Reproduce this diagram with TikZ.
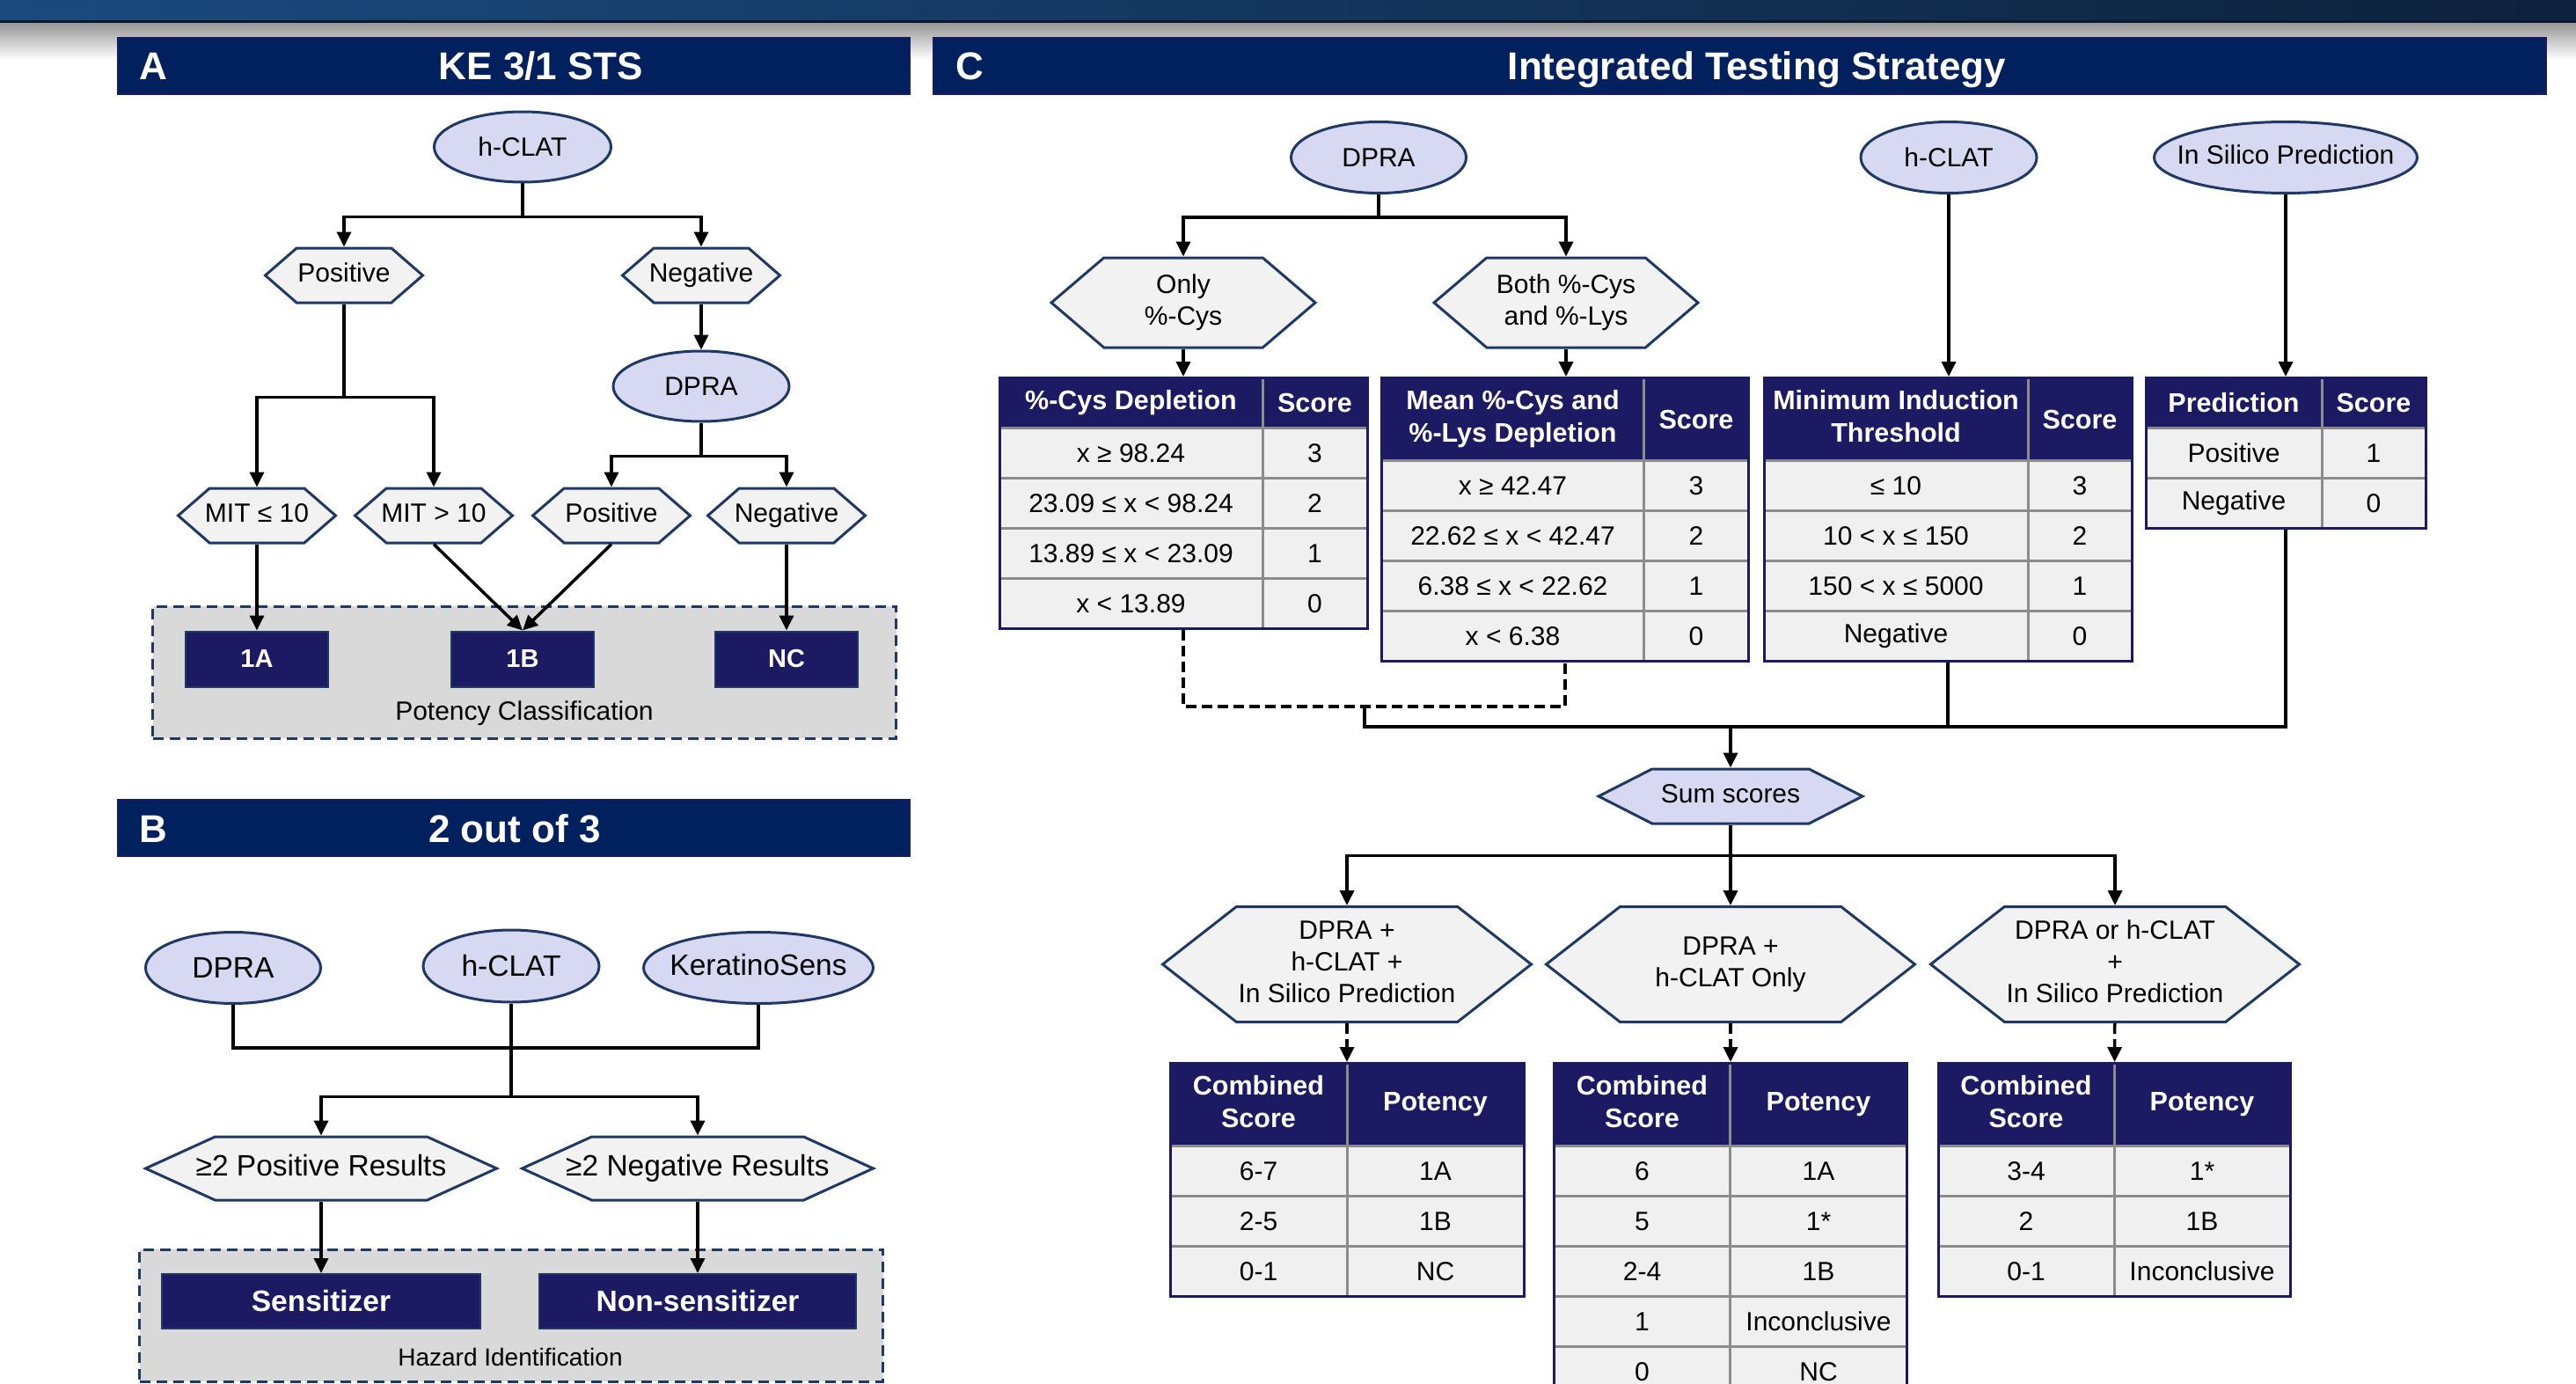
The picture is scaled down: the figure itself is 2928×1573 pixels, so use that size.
\documentclass[tikz,border=0pt]{standalone}
\usepackage{fontspec}
\setmainfont{Liberation Sans}
\usetikzlibrary{arrows.meta,shapes.geometric,shapes.symbols,matrix}

\definecolor{barnavy}{RGB}{1,32,94}
\definecolor{headnavy}{RGB}{28,26,98}
\definecolor{edgenavy}{RGB}{31,56,100}
\definecolor{lav}{RGB}{215,216,242}
\definecolor{hexgray}{RGB}{242,242,242}
\definecolor{cellgray}{RGB}{240,240,240}
\definecolor{gridgray}{RGB}{140,140,140}
\definecolor{boxgray}{RGB}{217,217,217}
\definecolor{topblue}{RGB}{27,74,126}
\definecolor{topdark}{RGB}{13,34,60}

% centred text that does not widen its shape
\newcommand{\hx}[1]{\makebox[0pt]{\begin{tabular}{@{}c@{}}#1\end{tabular}}}
\newcommand{\twol}[2]{\makebox[0pt]{\begin{tabular}{@{}c@{}}#1\\#2\end{tabular}}}

\begin{document}
\begin{tikzpicture}[x=1pt,y=-1pt,line width=3.5pt,>={Triangle[width=16pt,length=17pt]},
  txt/.style={font=\fontsize{30}{36}\selectfont},
  txtB/.style={font=\fontsize{33.5}{40}\selectfont},
  assay/.style={ellipse,draw=edgenavy,fill=lav,line width=3pt,inner sep=0pt,txt},
  hexa/.style={signal,signal to=east and west,signal pointer angle=#1,draw=edgenavy,
    fill=hexgray,line width=3pt,inner sep=0pt,txt},
  hexA/.style={hexa=82,minimum width=179pt,minimum height=62pt},
  hexB/.style={hexa=49,minimum width=399pt,minimum height=72pt,txtB},
  hexC/.style={hexa=81,minimum width=300pt,minimum height=102pt},
  hexD/.style={hexa=76,minimum width=419pt,minimum height=131pt},
  result/.style={draw=edgenavy,fill=headnavy,line width=2pt,text=white,
    font=\fontsize{29}{35}\selectfont\bfseries},
  groupbox/.style={draw=edgenavy,fill=boxgray,line width=3pt,dash pattern=on 12pt off 7pt},
  bar/.style={draw=headnavy,fill=barnavy,line width=2pt,minimum height=64pt},
  bartxt/.style={anchor=base,inner sep=0pt,text=white,font=\fontsize{44}{52}\selectfont\bfseries},
  dashline/.style={dash pattern=on 12pt off 6pt},
  cell/.style={fill=cellgray,minimum height=54pt,inner sep=0pt,anchor=center,txt},
  scoretab/.style={matrix of nodes,draw=headnavy,fill=gridgray,line width=3pt,inner sep=1.5pt,
    column sep=3pt,row sep=3pt,nodes={cell},
    row 1/.style={nodes={fill=headnavy,text=white,minimum height=#1,
      font=\fontsize{30.5}{37}\selectfont\bfseries}}},
  scoretab/.default=54pt]
% ---------- frame ----------
\path[use as bounding box,fill=white] (0,0) rectangle (2928,1573);
\clip (0,0) rectangle (2928,1573);
\shade[left color=topblue,right color=topdark] (0,0) rectangle (2928,27);
\fill[topdark!75!black] (0,23) rectangle (2928,27);
\shade[top color=black!40,bottom color=white] (0,27) rectangle (2928,68);
% ---------- A ----------
\node[bar,minimum width=900pt] (barA) at (584,75) {};
\node[bartxt,anchor=base west] (labA) at (157,91) {A};
\node[bartxt] (ttlA) at (615,91) {KE 3/1 STS};
\node[assay,minimum width=201pt,minimum height=80pt] (hclatA) at (594,167) {h-CLAT};
\node[hexA] (posA) at (391,313) {\hx{Positive}};
\node[hexA] (negA) at (797,313) {\hx{Negative}};
\node[assay,minimum width=200pt,minimum height=80pt] (dpraA) at (797,439) {DPRA};
\node[hexA] (mitlo) at (292,586) {\hx{MIT ≤ 10}};
\node[hexA] (mithi) at (493,586) {\hx{MIT > 10}};
\node[hexA] (dpos) at (695,586) {\hx{Positive}};
\node[hexA] (dneg) at (894,586) {\hx{Negative}};
\node[groupbox,minimum width=845pt,minimum height=150pt] (potbox) at (596,764) {};
\node[result,minimum width=162pt,minimum height=63pt] (c1A) at (292,749) {1A};
\node[result,minimum width=162pt,minimum height=63pt] (c1B) at (594,749) {1B};
\node[result,minimum width=162pt,minimum height=63pt] (cNC) at (894,749) {NC};
\node[txt] (potlbl) at (596,811) {Potency Classification};
\draw[->] (hclatA.south) -- ++(0,38) -| (posA.north);
\draw[->] (hclatA.south) -- ++(0,38) -| (negA.north);
\draw[->] (posA.south) -- ++(0,106) -| (mitlo.north);
\draw[->] (posA.south) -- ++(0,106) -| (mithi.north);
\draw[->] (negA) -- (dpraA);
\draw[->] (dpraA.south) -- ++(0,38) -| (dpos.north);
\draw[->] (dpraA.south) -- ++(0,38) -| (dneg.north);
\draw[->] (mitlo) -- (c1A);
\draw[->] (mithi.south) -- (c1B.north);
\draw[->] (dpos.south) -- (c1B.north);
\draw[->] (dneg) -- (cNC);
% ---------- B ----------
\node[bar,minimum width=900pt] (barB) at (584,941) {};
\node[bartxt,anchor=base west] (labB) at (157,957) {B};
\node[bartxt] (ttlB) at (585,957) {2 out of 3};
\node[assay,txtB,minimum width=199pt,minimum height=81pt] (dpraB) at (265,1100) {DPRA};
\node[assay,txtB,minimum width=200pt,minimum height=82pt] (hclatB) at (581,1098) {h-CLAT};
\node[assay,txtB,minimum width=261pt,minimum height=81pt] (keraB) at (862,1100) {\hx{KeratinoSens}};
\node[hexB] (pos2) at (365,1328) {\hx{≥2 Positive Results}};
\node[hexB] (neg2) at (793,1328) {\hx{≥2 Negative Results}};
\node[groupbox,minimum width=845pt,minimum height=150pt] (hazbox) at (581,1495) {};
\node[result,font=\fontsize{33.5}{40}\selectfont\bfseries,minimum width=362pt,minimum height=62pt] (sens) at (365,1479) {Sensitizer};
\node[result,font=\fontsize{33.5}{40}\selectfont\bfseries,minimum width=360pt,minimum height=62pt] (nonsens) at (793,1479) {Non-sensitizer};
\node[font=\fontsize{28}{34}\selectfont] (hazlbl) at (580,1542) {Hazard Identification};
\draw (dpraB.south) -- ++(0,49) -| (keraB.south);
\draw[->] (hclatB.south) -- ++(0,106) -| (pos2.north);
\draw[->] (hclatB.south) -- ++(0,106) -| (neg2.north);
\draw[->] (pos2) -- (sens);
\draw[->] (neg2) -- (nonsens);
% ---------- C ----------
\node[bar,minimum width=1833pt] (barC) at (1977,75) {};
\node[bartxt,anchor=base west] (labC) at (1085,91) {C};
\node[bartxt] (ttlC) at (1997,91) {Integrated Testing Strategy};
\node[assay,minimum width=199pt,minimum height=81pt] (dpraC) at (1567,179) {DPRA};
\node[assay,minimum width=200pt,minimum height=81pt] (hclatC) at (2215,179) {h-CLAT};
\node[assay,minimum width=299pt,minimum height=81pt] (insilC) at (2598,179) {\hx{In Silico Prediction}};
\node[hexC] (onlycys) at (1345,344) {\twol{Only}{\%-Cys}};
\node[hexC] (bothcl) at (1780,344) {\twol{Both \%-Cys}{and \%-Lys}};
\matrix (tcys) [scoretab,column 1/.style={nodes={minimum width=296pt}},
  column 2/.style={nodes={minimum width=116pt}},anchor=north] at (1345,428) {
  \%-Cys Depletion & Score \\
  x ≥ 98.24 & 3 \\
  23.09 ≤ x < 98.24 & 2 \\
  13.89 ≤ x < 23.09 & 1 \\
  x < 13.89 & 0 \\
};
\matrix (tboth) [scoretab=91pt,column 1/.style={nodes={minimum width=295pt}},
  column 2/.style={nodes={minimum width=116pt}},anchor=north] at (1779,428) {
  \twol{Mean \%-Cys and}{\%-Lys Depletion} & Score \\
  x ≥ 42.47 & 3 \\
  22.62 ≤ x < 42.47 & 2 \\
  6.38 ≤ x < 22.62 & 1 \\
  x < 6.38 & 0 \\
};
\matrix (tmit) [scoretab=91pt,column 1/.style={nodes={minimum width=297pt}},
  column 2/.style={nodes={minimum width=115pt}},anchor=north] at (2214,428) {
  \twol{Minimum Induction}{Threshold} & Score \\
  ≤ 10 & 3 \\
  10 < x ≤ 150 & 2 \\
  150 < x ≤ 5000 & 1 \\
  Negative & 0 \\
};
\matrix (tpred) [scoretab,column 1/.style={nodes={minimum width=197pt}},
  column 2/.style={nodes={minimum width=115pt}},anchor=north] at (2598,428) {
  Prediction & Score \\
  Positive & 1 \\
  Negative & 0 \\
};
\coordinate (dmerge) at (1551,803);
\coordinate (smerge) at (1967,826);
\draw[->] (dpraC.south) -- ++(0,26) -| (onlycys.north);
\draw[->] (dpraC.south) -- ++(0,26) -| (bothcl.north);
\draw[->] (onlycys) -- (tcys);
\draw[->] (bothcl.south) -- (bothcl.south |- tboth.north);
\draw[->] (hclatC.south) -- (hclatC.south |- tmit.north);
\draw[->] (insilC.south) -- (insilC.south |- tpred.north);
\draw[dashline] (tcys.south) |- (dmerge) -| (tboth.south);
\draw (dmerge) |- (smerge) -| (tpred.south);
\draw (tmit.south) -- (tmit.south |- smerge);
% ---------- sum and potency ----------
\node[hexa=54,fill=lav,minimum width=300pt,minimum height=62pt] (sum) at (1967,905) {\hx{Sum scores}};
\node[hexD] (combo3) at (1531,1096) {\hx{DPRA +\\h-CLAT +\\In Silico Prediction}};
\node[hexD] (combo2) at (1967,1096) {\hx{DPRA +\\h-CLAT Only}};
\node[hexD] (combo1) at (2404,1096) {\hx{DPRA or h-CLAT\\+\\In Silico Prediction}};
\draw[->] (smerge) -- (sum.north);
\draw[->] (sum.south) -- ++(0,35) -| (combo3.north);
\draw[->] (sum.south) -- (combo2.north);
\draw[->] (sum.south) -- ++(0,35) -| (combo1.north);
\matrix (tthree) [scoretab=91pt,column 1/.style={nodes={minimum width=198pt}},
  column 2/.style={nodes={minimum width=198pt}},anchor=north] at (1531,1207) {
  \twol{Combined}{Score} & Potency \\
  6-7 & 1A \\
  2-5 & 1B \\
  0-1 & NC \\
};
\matrix (ttwo) [scoretab=91pt,column 1/.style={nodes={minimum width=197pt}},
  column 2/.style={nodes={minimum width=198pt}},anchor=north] at (1967,1207) {
  \twol{Combined}{Score} & Potency \\
  6 & 1A \\
  5 & 1* \\
  2-4 & 1B \\
  1 & Inconclusive \\
  0 & NC \\
};
\matrix (tone) [scoretab=91pt,column 1/.style={nodes={minimum width=197pt}},
  column 2/.style={nodes={minimum width=197pt}},anchor=north] at (2403,1207) {
  \twol{Combined}{Score} & Potency \\
  3-4 & 1* \\
  2 & 1B \\
  0-1 & Inconclusive \\
};
\draw[->,dashline] (combo3) -- (tthree);
\draw[->,dashline] (combo2) -- (ttwo);
\draw[->,dashline] (combo1) -- (tone);
\end{tikzpicture}
\end{document}
